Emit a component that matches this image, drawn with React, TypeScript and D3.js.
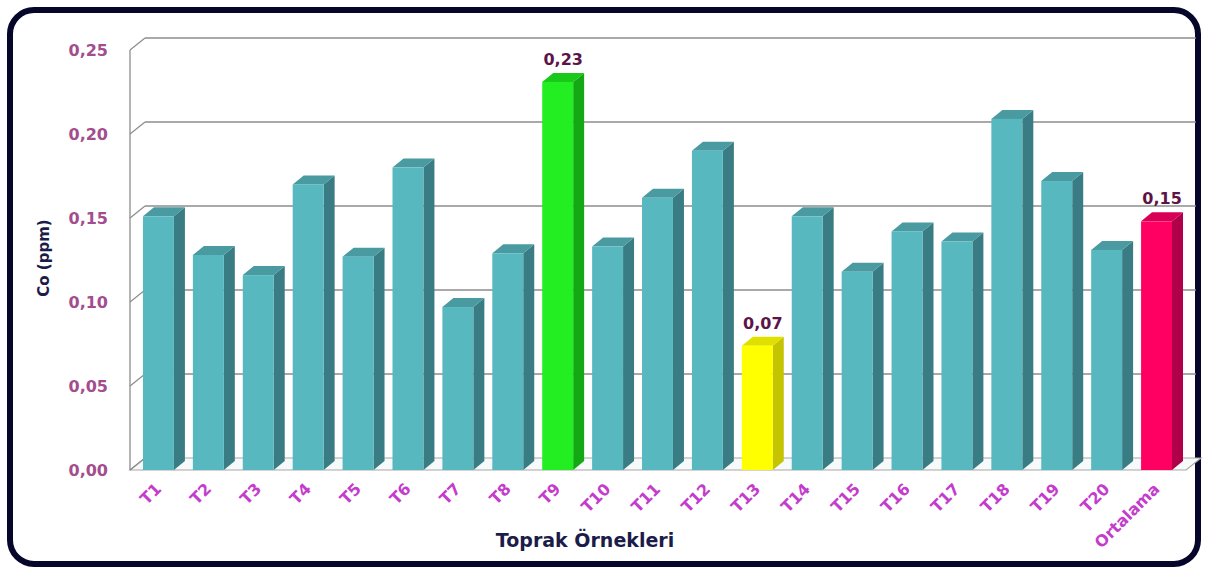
import React from 'react';
import * as d3 from 'd3';

const categories = ['T1', 'T2', 'T3', 'T4', 'T5', 'T6', 'T7', 'T8', 'T9', 'T10', 'T11', 'T12', 'T13', 'T14', 'T15', 'T16', 'T17', 'T18', 'T19', 'T20', 'Ortalama'];
const values = [0.151, 0.128, 0.116, 0.17, 0.127, 0.18, 0.097, 0.129, 0.231, 0.133, 0.162, 0.19, 0.074, 0.151, 0.118, 0.142, 0.136, 0.209, 0.172, 0.131, 0.148];
const yTicks = [0, 0.05, 0.1, 0.15, 0.2, 0.25];
// bars with their own colour and a value label
const highlights = {
  T9: { front: '#22ee22', side: '#14a814', top: '#19c819', label: '0,23' },
  T13: { front: '#ffff00', side: '#c4c400', top: '#e0e000', label: '0,07' },
  Ortalama: { front: '#ff0062', side: '#b0004a', top: '#d80056', label: '0,15' },
};
const teal = { front: '#57b8c0', side: '#397c83', top: '#4a9aa1' };

const DX = 15; // back wall depth
const DY = 12;
const BDX = 11; // bar depth
const BDY = 9;

const App = () => {
  const width = 1208;
  const height = 574;

  const x = d3.scaleBand<string>().domain(categories).range([130, 1178]).padding(0);
  const y = d3.scaleLinear().domain([0, 0.25]).range([470, 50]);
  const fmt = (v: number) => d3.format('.2f')(v).replace('.', ',');

  const step = x.step();
  const off = step * 0.26;
  const bw = step * 0.62;

  return (
    <svg width={width} height={height} style={{ display: 'block', position: 'absolute', left: 0, top: 0 }}>
      <rect x={0} y={0} width={width} height={height} fill="#fff" />
      <rect x={10} y={10} width={1188} height={554} rx={24} ry={24} fill="#fff" stroke="#06062a" strokeWidth={6} />

      {/* floor */}
      <polygon
        points={`130,${y(0)} 1186,${y(0)} ${1186 + DX},${y(0) - DY} ${130 + DX},${y(0) - DY}`}
        fill="#f6fafa" stroke="#a8a8a8" strokeWidth={1.2} />

      {/* grid lines */}
      {yTicks.map((t) => (
        <g key={t}>
          {t > 0 && (
            <line x1={130 + DX} x2={1196} y1={y(t) - DY} y2={y(t) - DY} stroke="#8c8c8c" strokeWidth={1.3} />
          )}
          <line x1={130} x2={130 + DX} y1={y(t)} y2={y(t) - DY} stroke="#8c8c8c" strokeWidth={1.3} />
          <text x={108} y={y(t) + 6} textAnchor="end" fontFamily="DejaVu Sans" fontWeight="bold" fontSize={16} fill="#a34d8e">
            {fmt(t)}
          </text>
        </g>
      ))}
      <line x1={130} x2={130} y1={y(0.25)} y2={y(0)} stroke="#8c8c8c" strokeWidth={1.3} />

      {/* bars */}
      {categories.map((c, i) => {
        const col = highlights[c] || teal;
        const x0 = (x(c) as number) + off;
        const x1 = x0 + bw;
        const yt = y(values[i]);
        const yb = y(0);
        return (
          <g key={c}>
            <polygon points={`${x1},${yt} ${x1 + BDX},${yt - BDY} ${x1 + BDX},${yb - BDY} ${x1},${yb}`} fill={col.side} />
            <polygon points={`${x0},${yt} ${x0 + BDX},${yt - BDY} ${x1 + BDX},${yt - BDY} ${x1},${yt}`} fill={col.top} />
            <rect x={x0} y={yt} width={bw} height={yb - yt} fill={col.front} />
            {highlights[c] && (
              <text x={x0 + (bw + BDX) / 2} y={yt - BDY - 8} textAnchor="middle" fontFamily="DejaVu Sans" fontWeight="bold" fontSize={16} fill="#5c1446">
                {highlights[c].label}
              </text>
            )}
            <text
              transform={`translate(${x0 + bw / 2 + 4},${490}) rotate(-45)`}
              textAnchor="end" fontFamily="DejaVu Sans" fontWeight="bold" fontSize={16} fill="#c43ccc">
              {c}
            </text>
          </g>
        );
      })}

      <text x={585} y={547} textAnchor="middle" fontFamily="DejaVu Sans" fontWeight="bold" fontSize={19} fill="#1c1c4a">
        Toprak Örnekleri
      </text>
      <text transform={`translate(49,${258}) rotate(-90)`} textAnchor="middle" fontFamily="DejaVu Sans" fontWeight="bold" fontSize={15} fill="#1c1c4a">
        Co (ppm)
      </text>
    </svg>
  );
};

export default App;
